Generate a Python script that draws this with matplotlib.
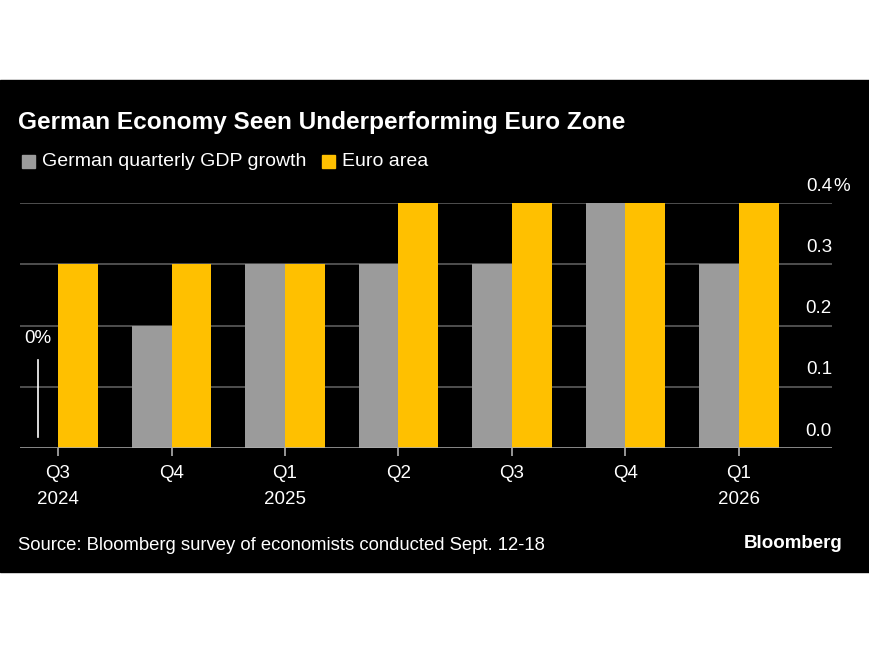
import matplotlib
matplotlib.use("Agg")
import matplotlib.pyplot as plt
from matplotlib.patches import Rectangle
import numpy as np

plt.rcParams['font.family'] = ['Liberation Sans', 'DejaVu Sans']

# 데이터
quarters = ["Q3\n2024", "Q4", "Q1\n2025", "Q2", "Q3", "Q4", "Q1\n2026"]
german = [0.0, 0.2, 0.3, 0.3, 0.3, 0.4, 0.3]
euro = [0.3, 0.3, 0.3, 0.4, 0.4, 0.4, 0.4]
y_ticks = [0.0, 0.1, 0.2, 0.3, 0.4]
y_labels = ["0.0", "0.1", "0.2", "0.3", "0.4"]

gray = "#9b9b9b"
yellow = "#ffc000"
W, H = 870, 653

fig = plt.figure(figsize=(W / 100, H / 100), dpi=100, facecolor="white")
# 검은 배경 패널
fig.patches.append(Rectangle((0, (H - 572) / H), 1, (572 - 80) / H,
                             transform=fig.transFigure, color="black", zorder=-10))

ax = fig.add_axes([20 / W, (H - 448) / H, (832 - 20) / W, (448 - 203) / H])
ax.patch.set_alpha(0)

x = np.arange(len(quarters))
bw = 0.352
ax.bar(x - bw / 2, german, bw, color=gray, zorder=2)
ax.bar(x + bw / 2, euro, bw, color=yellow, zorder=2)

ax.set_xlim(-0.335, 6.82)
ax.set_ylim(0, 0.4)

# 격자선
for t in y_ticks[1:]:
    ax.axhline(t, color="#5c5c5c", lw=1.2, zorder=1)
ax.axhline(0, color="#b0b0b0", lw=1.8, zorder=3)

# 오른쪽 눈금 라벨 (선 위에)
for t, lab in zip(y_ticks, y_labels):
    ax.annotate(lab, (1.0, t), xycoords=("axes fraction", "data"),
                xytext=(0, 6), textcoords="offset points",
                ha="right", va="bottom", color="white", fontsize=13.5,
                annotation_clip=False)
ax.annotate("%", (1.0, 0.4), xycoords=("axes fraction", "data"),
            xytext=(1, 6), textcoords="offset points",
            ha="left", va="bottom", color="white", fontsize=13.5,
            annotation_clip=False)

ax.set_yticks([])
ax.set_xticks(x)
ax.set_xticklabels(quarters, color="white", fontsize=13.5, linespacing=1.7)
ax.tick_params(axis="x", length=6, width=1.2, color="#b0b0b0", pad=6)
for s in ax.spines.values():
    s.set_visible(False)

# 0% 주석
ax.text(-0.3, 0.179, "0%", color="white", fontsize=13.5, ha="left", va="center")
ax.plot([-0.176, -0.176], [0.018, 0.143], color="white", lw=1.2, zorder=4)

# 제목과 범례
fig.text(18 / W, (H - 122) / H, "German Economy Seen Underperforming Euro Zone",
         color="white", fontsize=17.6, fontweight="bold", va="center")
fig.patches.append(Rectangle((22 / W, (H - 168) / H), 13 / W, 13 / H,
                             transform=fig.transFigure, color=gray))
fig.text(42 / W, (H - 162) / H, "German quarterly GDP growth",
         color="white", fontsize=14, va="center")
fig.patches.append(Rectangle((322 / W, (H - 168) / H), 13 / W, 13 / H,
                             transform=fig.transFigure, color=yellow))
fig.text(342 / W, (H - 162) / H, "Euro area",
         color="white", fontsize=14, va="center")

# 출처
fig.text(18 / W, (H - 545) / H, "Source: Bloomberg survey of economists conducted Sept. 12-18",
         color="white", fontsize=13.3, va="center")
fig.text(843 / W, (H - 544) / H, "Bloomberg", color="white", fontsize=13.5,
         fontweight="bold", ha="right", va="center")

fig.savefig("out.png", dpi=100, facecolor="white")
